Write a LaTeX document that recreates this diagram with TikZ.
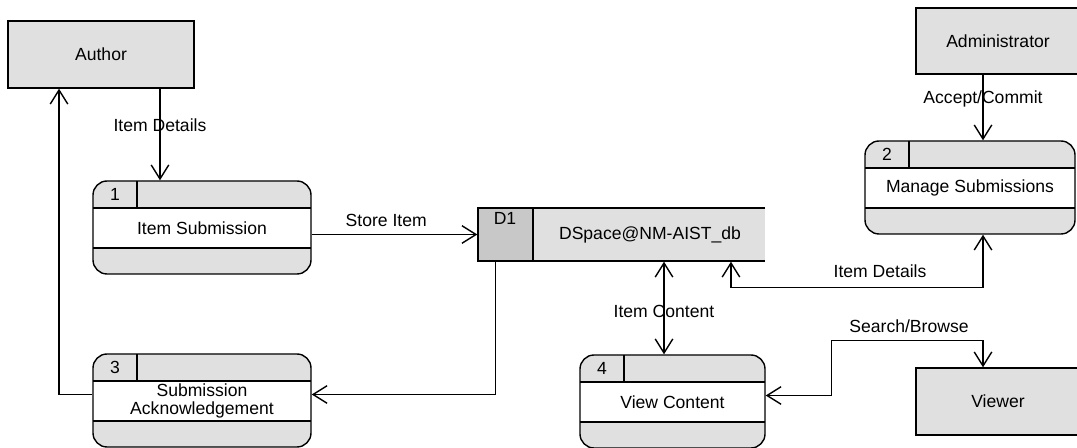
\documentclass[tikz,border=0pt]{standalone}
\usepackage{fontspec}
\setmainfont{Liberation Sans}
\usetikzlibrary{arrows.meta,positioning}
\definecolor{dfdgray}{RGB}{224,224,224}
\definecolor{dfddark}{RGB}{200,200,200}

\newcommand{\dfdprocess}[6]
{\begin{scope}[shift={(#2,#3)}]
	\fill [dfdgray, rounded corners=8pt] (0,0) rectangle (#4,93);
	\fill [white] (0,27) rectangle (#4,67);
	\draw [rounded corners=8pt] (0,0) rectangle (#4,93);
	\draw (0,27) -- (#4,27) (0,67) -- (#4,67) (44,0) -- (44,27);
	\node (#1num) at (22,13.5) {#5};%number
	\node [align=center] (#1txt) at (#4/2,47) {#6};
	\node [inner sep=0pt, minimum width=#4*0.02cm, minimum height=1.86cm] (#1) at (#4/2,46.5) {};
	\end{scope}
}

\tikzset{entity/.style={draw, fill=dfdgray, inner sep=0pt, minimum height=1.34cm},
	flow/.style={-{Straight Barb[length=8pt,width=10pt]}},
	twoway/.style={{Straight Barb[length=8pt,width=10pt]}-{Straight Barb[length=8pt,width=10pt]}}}

\begin{document}
\begin{tikzpicture}[x={(.02cm,0)},y={(0,-.02cm)}, line width=0.8pt]
\useasboundingbox (0,0) rectangle (1077,448);
\clip (0,0) rectangle (1077,448);

% external entities
\node [entity, minimum width=3.72cm] (author) at (101,54.5) {Author};
\node [entity, minimum width=3.28cm, minimum height=1.32cm] (admin) at (998,41) {Administrator};
\node [entity, minimum width=3.28cm] (viewer) at (998,401.5) {Viewer};

% processes
\dfdprocess{p1}{93}{181}{218}{1}{Item Submission}
\dfdprocess{p2}{865}{141}{210}{2}{Manage Submissions}
\dfdprocess{p3}{93}{354}{218}{3}{Submission\\[-1.5pt]Acknowledgement}
\dfdprocess{p4}{580}{355}{185}{4}{View Content}

% data store
\begin{scope}
	\fill [dfdgray] (478,208) rectangle (765,261);
	\fill [dfddark] (478,208) rectangle (533,261);
	\draw (765,208) -- (478,208) -- (478,261) -- (765,261);
	\draw (533,208) -- (533,261);
	\node (d1id) at (505,218) {D1};
	\node (d1txt) at (650,235) {DSpace@NM-AIST\_db};
	\node [inner sep=0pt, minimum width=5.74cm, minimum height=1.06cm] (d1) at (621.5,234.5) {};
\end{scope}

% flows
\draw [flow] ([xshift=1.18cm]author.south) -- ([xshift=1.18cm]author.south |- p1.north) node [pos=.4] (lbla) {Item Details};
\draw [flow] ([yshift=.12cm]p3.west) -| ([xshift=-.84cm]author.south);
\draw [flow] (p1.east |- d1.west) -- (d1.west) node [pos=.45, above=1pt] (lblb) {Store Item};
\draw [flow] ([xshift=.36cm]d1.south west) |- ([yshift=.12cm]p3.east);
\draw [twoway] ([xshift=.85cm]d1.south) -- ([xshift=.85cm]d1.south |- p4.north) node [pos=.54] (lblc) {Item Content};
\draw [twoway] ([xshift=.26cm]p2.south) -- ++(0,-1.06cm) -| ([xshift=2.19cm]d1.south);
\node (lbld) at (880,271) {Item Details};
\draw [flow] ([xshift=-.3cm]admin.south) -- ([xshift=-.3cm]admin.south |- p2.north) node [pos=.37] (lble) {Accept/Commit};
\draw [twoway] ([xshift=-.3cm]viewer.north) -- ++(0,.54cm) -| ([xshift=1.32cm,yshift=.12cm]p4.east) -- ([yshift=.12cm]p4.east);
\node (lblf) at (909,326) {Search/Browse};

\end{tikzpicture}
\end{document}
